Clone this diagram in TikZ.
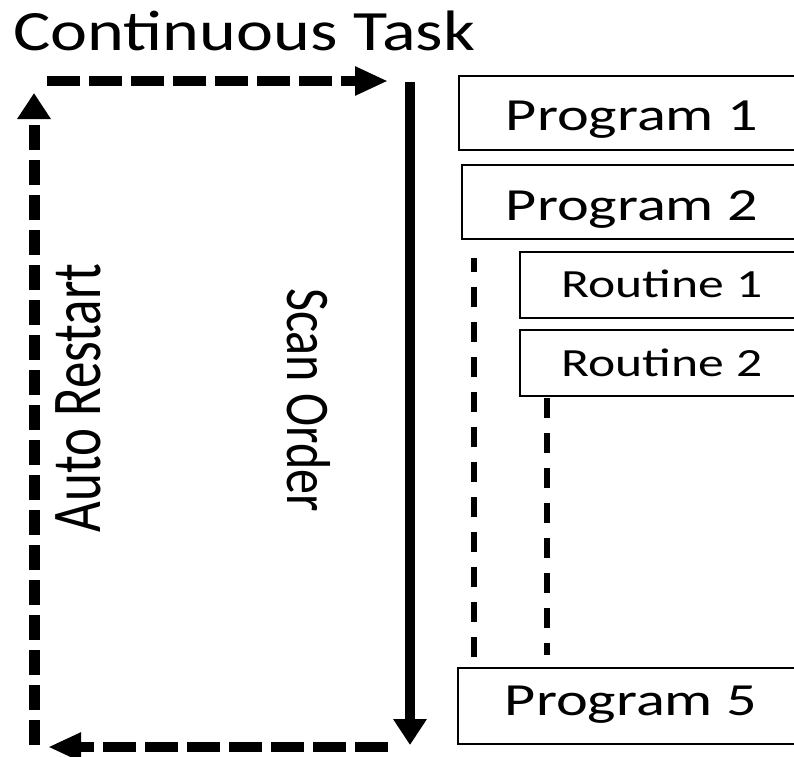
\documentclass[tikz,border=0pt]{standalone}
\usepackage{fontspec}
\setmainfont{Carlito}
\usetikzlibrary{arrows.meta}
\begin{document}
\begin{tikzpicture}[x=1pt,y=-1pt,
  box/.style={draw=black, line width=2pt, fill=white, inner sep=0pt,
    anchor=north west, minimum width=380pt},
  boxtext/.style={anchor=base, inner sep=0pt},
  hflow/.style={line width=10pt, dash pattern=on 33pt off 9pt},
  vflow/.style={line width=11pt, dash pattern=on 25pt off 10pt},
  nest/.style={line width=6pt, dash pattern=on 20pt off 15pt},
  htip/.style={-{Triangle[length=33pt,width=27pt]}},
  vtip/.style={-{Triangle[length=26pt,width=32pt]}}]
\useasboundingbox (0,0) rectangle (794,756);
\clip (0,0) rectangle (794,756);

% title
\node[anchor=base west, inner sep=0pt, font=\fontsize{57}{57}\selectfont]
  (title) at (13,50) {\scalebox{1.23}[1]{Continuous Task}};

% program and routine boxes (they run past the right edge)
\node[box, minimum height=74pt] (p1) at (458,75) {};
\node[box, minimum height=74pt] (p2) at (461,164) {};
\node[box, minimum height=66pt] (r1) at (519,251) {};
\node[box, minimum height=66pt] (r2) at (519,329) {};
\node[box, minimum height=76pt] (p5) at (457,667) {};

\node[boxtext, font=\fontsize{46}{46}\selectfont] (p1t) at (632,130) {\scalebox{1.31}[1]{Program 1}};
\node[boxtext, font=\fontsize{46}{46}\selectfont] (p2t) at (632,220) {\scalebox{1.31}[1]{Program 2}};
\node[boxtext, font=\fontsize{40}{40}\selectfont] (r1t) at (662,297) {\scalebox{1.29}[1]{Routine 1}};
\node[boxtext, font=\fontsize{40}{40}\selectfont] (r2t) at (662,376) {\scalebox{1.29}[1]{Routine 2}};
\node[boxtext, font=\fontsize{46}{46}\selectfont] (p5t) at (631,715) {\scalebox{1.31}[1]{Program 5}};

% nesting guides
\coordinate (g1a) at (474,657); \coordinate (g1b) at (474,258);
\coordinate (g2a) at (547,398); \coordinate (g2b) at (547,655);
\draw[nest] (g1a) -- (g1b);
\draw[nest] (g2a) -- (g2b);

% scan loop
\coordinate (tl) at (47,81);   \coordinate (tr) at (388,81);
\coordinate (st) at (410,82);  \coordinate (sb) at (410,745);
\coordinate (br) at (388,747); \coordinate (bl) at (48,747);
\coordinate (lb) at (34,745);  \coordinate (lt) at (34,93);
\draw[hflow, htip] (tl) -- (tr);
\draw[line width=10pt, vtip] (st) -- (sb);
\draw[hflow, htip] (br) -- (bl);
\draw[vflow, vtip] (lb) -- (lt);

% side labels
\node[rotate=90, anchor=base, inner sep=0pt, font=\fontsize{53}{53}\selectfont]
  (auto) at (100,398) {\scalebox{1}[1.32]{Auto Restart}};
\node[rotate=-90, anchor=base, inner sep=0pt, font=\fontsize{50}{50}\selectfont]
  (scan) at (287,400) {\scalebox{1}[1.24]{Scan Order}};
\end{tikzpicture}
\end{document}
